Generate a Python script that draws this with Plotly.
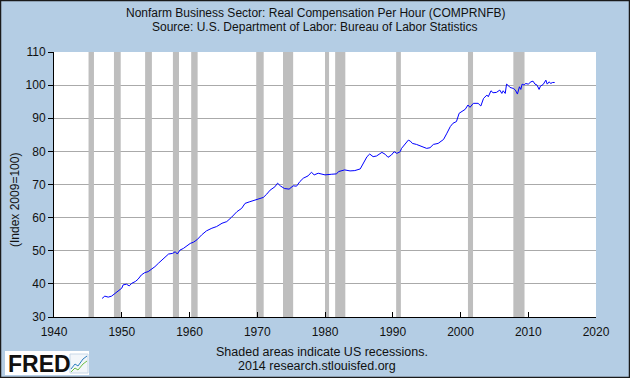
import plotly.graph_objects as go

# ---- data ----
years = [1947.1, 1947.5, 1948.0, 1948.5, 1949.0, 1949.5, 1950.0, 1950.2, 1950.7, 1951.1,
         1951.5, 1952.0, 1952.4, 1952.9, 1953.4, 1953.9, 1954.4, 1954.9, 1955.4, 1955.9,
         1956.4, 1956.9, 1957.5, 1957.9, 1958.2, 1958.6, 1959.1, 1959.6, 1960.1, 1960.6,
         1961.1, 1961.8, 1962.5, 1963.3, 1964.0, 1964.8, 1965.5, 1966.2, 1967.0, 1967.7,
         1968.2, 1968.9, 1969.7, 1970.4, 1970.9, 1971.4, 1971.9, 1972.6, 1973.0, 1973.4,
         1974.0, 1974.7, 1975.3, 1975.8, 1976.3, 1976.8, 1977.5, 1978.0, 1978.4, 1979.0,
         1980.0, 1981.0, 1981.7, 1982.0, 1982.9, 1983.7, 1984.4, 1985.2, 1985.7, 1986.2,
         1986.6, 1987.1, 1987.6, 1988.4, 1988.9, 1989.3, 1989.8, 1990.2, 1990.6, 1991.1,
         1991.3, 1991.8, 1992.3, 1992.6, 1992.9, 1993.5, 1994.3, 1995.0, 1995.5, 1996.0,
         1996.7, 1997.5, 1998.0, 1998.5, 1998.9, 1999.4, 1999.8, 2000.2, 2000.7, 2001.1,
         2001.4, 2001.9, 2002.6, 2003.0, 2003.4, 2003.9, 2004.1, 2004.5, 2004.8, 2005.3,
         2005.8, 2006.1, 2006.3, 2006.6, 2006.8, 2007.1, 2007.3, 2007.8, 2008.1, 2008.4,
         2008.7, 2008.9, 2009.1, 2009.4, 2009.6, 2010.0, 2010.4, 2010.7, 2011.0, 2011.3,
         2011.6, 2011.8, 2012.2, 2012.6, 2012.8, 2013.1, 2013.3, 2013.6, 2013.9]
values = [35.6, 36.3, 36.0, 36.3, 37.1, 37.9, 38.7, 39.7, 39.9, 39.4,
          40.2, 40.7, 41.4, 42.7, 43.4, 43.7, 44.4, 45.2, 46.2, 47.2,
          48.2, 49.0, 49.2, 49.7, 49.0, 50.2, 50.7, 51.5, 52.2, 52.6,
          53.3, 54.8, 56.0, 56.8, 57.3, 58.3, 58.8, 60.1, 61.8, 62.8,
          64.3, 64.8, 65.3, 65.6, 66.1, 67.1, 68.3, 69.3, 70.4, 69.6,
          68.8, 68.6, 69.6, 69.5, 70.9, 71.9, 72.6, 73.7, 72.9, 73.4,
          72.9, 73.1, 73.2, 73.9, 74.4, 74.1, 74.2, 74.7, 76.4, 78.4,
          79.2, 78.4, 78.6, 79.7, 79.1, 78.2, 78.9, 79.9, 79.4, 79.9,
          80.9, 82.2, 83.4, 83.1, 82.4, 82.1, 81.4, 80.9, 81.1, 82.1,
          82.4, 83.6, 85.5, 87.5, 88.5, 89.0, 91.5, 92.0, 92.7, 94.0,
          93.3, 94.5, 94.5, 93.7, 96.0, 97.0, 96.5, 98.3, 97.7, 97.8,
          98.5, 97.5, 98.3, 97.5, 100.3, 99.8, 99.3, 99.0, 98.5, 97.3,
          99.5, 98.7, 100.3, 100.0, 100.5, 100.3, 101.0, 101.2, 100.3, 100.0,
          98.7, 99.7, 100.2, 101.5, 100.3, 101.0, 100.5, 100.8, 100.8]

recession_starts = [1945.1, 1948.85, 1953.45, 1957.55, 1960.25, 1969.85, 1973.8,
                    1980.0, 1981.5, 1990.5, 2001.1, 2007.8]
recession_ends = [1945.9, 1949.85, 1954.45, 1958.45, 1961.2, 1970.95, 1975.3,
                  1980.6, 1983.0, 1991.2, 2001.85, 2009.45]

x_ticks = [1940, 1950, 1960, 1970, 1980, 1990, 2000, 2010, 2020]
y_ticks = [30, 40, 50, 60, 70, 80, 90, 100, 110]

title_lines = ["Nonfarm Business Sector: Real Compensation Per Hour (COMPRNFB)",
               "Source: U.S. Department of Labor: Bureau of Labor Statistics"]
y_title = "(Index 2009=100)"
footer_lines = ["Shaded areas indicate US recessions.", "2014 research.stlouisfed.org"]

# ---- layout constants ----
W, H = 630, 378
ML, MR, MT, MB = 54, 34, 52, 61
PW, PH = W - ML - MR, H - MT - MB
BG = "#B4CDE4"
FONT = "Liberation Sans"
TXT = "#111111"

def px(xp):
    return (xp - ML) / PW

def py(yp):
    return (H - MB - yp) / PH

fig = go.Figure()
fig.add_trace(go.Scatter(x=years, y=values, mode="lines",
                         line=dict(color="#0000FF", width=1), hoverinfo="skip"))

shapes = []
for s, e in zip(recession_starts, recession_ends):
    shapes.append(dict(type="rect", xref="x", yref="y", x0=s, x1=e, y0=30, y1=110,
                       fillcolor="#BEBEBE", line=dict(width=0), layer="between"))
# outer border
shapes.append(dict(type="rect", xref="paper", yref="paper",
                   x0=px(0.5), x1=px(W - 0.5), y0=py(H - 0.5), y1=py(0.5),
                   line=dict(color="#1a1a1a", width=1.5), fillcolor="rgba(0,0,0,0)"))
# FRED logo box
shapes.append(dict(type="rect", xref="paper", yref="paper",
                   x0=px(5), x1=px(89), y0=py(375), y1=py(351),
                   line=dict(width=0), fillcolor="white"))
# tiny chart icon
shapes.append(dict(type="rect", xref="paper", yref="paper",
                   x0=px(70), x1=px(88), y0=py(373), y1=py(354),
                   line=dict(color="#C8D8E8", width=1), fillcolor="#F2F6FA"))
shapes.append(dict(type="path", xref="paper", yref="paper",
                   path=f"M {px(71)},{py(369)} L {px(75)},{py(364)} L {px(78)},{py(366)} L {px(83)},{py(359)} L {px(87)},{py(356)}",
                   line=dict(color="#2E7FBF", width=1)))
shapes.append(dict(type="path", xref="paper", yref="paper",
                   path=f"M {px(71)},{py(372)} L {px(75)},{py(368)} L {px(78)},{py(370)} L {px(83)},{py(364)} L {px(87)},{py(361)}",
                   line=dict(color="#6DBE45", width=1)))

def ann(text, x, y, size, **kw):
    d = dict(text=text, x=px(x), y=py(y), xref="paper", yref="paper",
             showarrow=False, xanchor="center", yanchor="middle",
             font=dict(family=FONT, size=size, color=TXT))
    d.update(kw)
    return d

annotations = [
    ann(title_lines[0], 315, 13, 12),
    ann(title_lines[1], 315, 27, 12),
    ann(y_title, 15, 200, 12, textangle=-90),
    ann(footer_lines[0], 322, 352, 12.5),
    ann(footer_lines[1], 317, 366, 12.5),
    dict(text="<b>FRED</b>", x=px(6), y=py(364), xref="paper", yref="paper",
         showarrow=False, xanchor="left", yanchor="middle",
         font=dict(family="Liberation Sans", size=23, color=TXT)),
]

fig.update_layout(
    width=W, height=H,
    margin=dict(l=ML, r=MR, t=MT, b=MB, pad=0),
    paper_bgcolor=BG, plot_bgcolor="white",
    showlegend=False,
    shapes=shapes, annotations=annotations,
    xaxis=dict(range=[1940, 2020], tickvals=x_ticks, ticktext=[str(t) for t in x_ticks],
               showgrid=False, zeroline=False, showline=True, linecolor="black", linewidth=1,
               ticks="inside", ticklen=5, tickcolor="black", ticklabelstandoff=4,
               tickfont=dict(family=FONT, size=12, color=TXT)),
    yaxis=dict(range=[30, 110], tickvals=y_ticks, ticktext=[str(t) for t in y_ticks],
               showgrid=True, gridcolor="#AAAAAA", gridwidth=1, zeroline=False,
               showline=True, linecolor="black", linewidth=1,
               ticks="outside", ticklen=5, tickcolor="black",
               tickfont=dict(family=FONT, size=12, color=TXT)),
)

fig.write_html("out.html", config={"displayModeBar": False},
               post_script="document.body.style.margin='0';document.body.style.overflow='hidden';")
